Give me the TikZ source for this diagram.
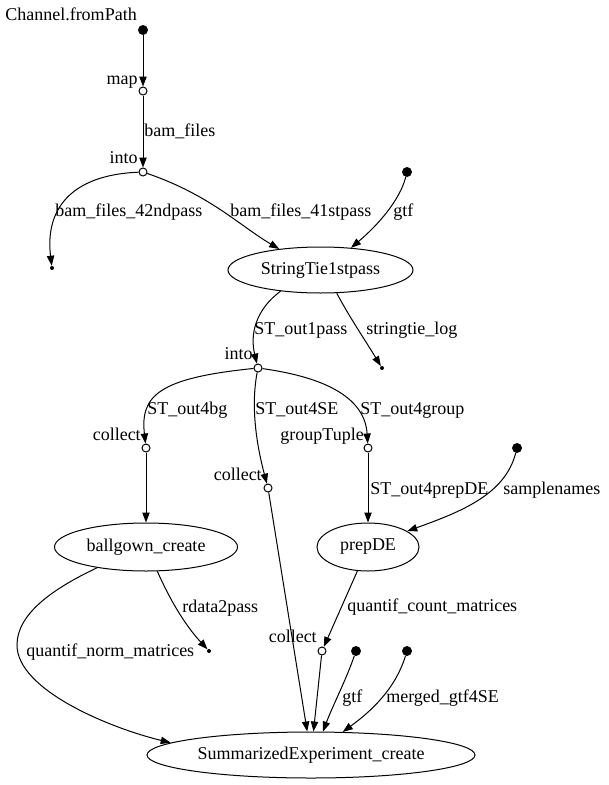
\documentclass[tikz,border=0pt]{standalone}
\usepackage{fontspec}
\setmainfont{Liberation Serif}
\usetikzlibrary{shapes.geometric,arrows.meta}
\begin{document}
\begin{tikzpicture}[x=0.75pt,y=-0.75pt,
  every node/.style={font=\fontsize{13.5}{15}\selectfont},
  dot/.style={circle,fill=black,draw=black,inner sep=0pt,minimum size=7pt},
  sdot/.style={circle,fill=black,inner sep=0pt,minimum size=3pt},
  op/.style={circle,draw=black,fill=white,inner sep=0pt,minimum size=6pt,line width=0.75pt},
  proc/.style={ellipse,draw=black,inner sep=0pt,line width=0.75pt},
  lbl/.style={inner sep=0pt,anchor=base west},
  rlbl/.style={inner sep=0pt,anchor=base east},
  edge/.style={line width=0.75pt,-{Triangle[length=7.5pt,width=5.5pt]}},
]
\useasboundingbox (0,0) rectangle (609,785);
% nodes
\node[dot] (src1) at (143,30) {};
\node[op] (map) at (143,91) {};
\node[op] (into1) at (143,172) {};
\node[sdot] (end1) at (52,268) {};
\node[dot] (gtf1) at (407,172) {};
\node[proc,minimum width=138.75pt,minimum height=34.5pt] (st) at (320.5,270) {StringTie1stpass};
\node[op] (into2) at (258,368) {};
\node[sdot] (end2) at (382,368) {};
\node[op] (col1) at (146,448) {};
\node[op] (col2) at (268,488) {};
\node[op] (grp) at (368,448) {};
\node[dot] (samp) at (517,448) {};
\node[proc,minimum width=137.25pt,minimum height=36pt] (bg) at (146,547) {ballgown\_create};
\node[proc,minimum width=76.5pt,minimum height=36pt] (pde) at (368,547) {prepDE};
\node[sdot] (end3) at (209,651) {};
\node[op] (col3) at (322,651) {};
\node[dot] (gtf2) at (356,651) {};
\node[dot] (mgtf) at (407,651) {};
\node[proc,minimum width=246pt,minimum height=34.5pt] (se) at (311,755) {SummarizedExperiment\_create};
% node labels
\node[lbl] (lsrc1) at (5,21) {Channel.fromPath};
\node[rlbl] (lmap) at (138,84) {map};
\node[rlbl] (linto1) at (138,163) {into};
\node[rlbl] (linto2) at (253,359) {into};
\node[rlbl] (lcol1) at (141,440) {collect};
\node[rlbl] (lgrp) at (364,440) {groupTuple};
\node[rlbl] (lcol2) at (262,480) {collect};
\node[rlbl] (lcol3) at (317,642) {collect};
% edges
\draw[edge] (src1) -- (map);
\draw[edge] (map) -- (into1);
\draw[edge] (into1) .. controls (70,175) and (45,210) .. (end1);
\draw[edge] (into1) .. controls (210,195) and (240,226) .. (st.153);
\draw[edge] (gtf1) .. controls (400,200) and (378,225) .. (st.36);
\draw[edge] (st.208) .. controls (255,310) and (250,335) .. (into2);
\draw[edge] (st.-55) .. controls (350,318) and (365,340) .. (end2);
\draw[edge] (into2) .. controls (160,378) and (140,395) .. (col1);
\draw[edge] (into2) .. controls (250,410) and (258,450) .. (col2);
\draw[edge] (into2) .. controls (330,378) and (365,400) .. (grp);
\draw[edge] (col1) -- (bg);
\draw[edge] (grp) -- (pde);
\draw[edge] (samp) .. controls (505,495) and (460,512) .. (pde.22);
\draw[edge] (col2) -- (se);
\draw[edge] (pde) -- (col3);
\draw[edge] (col3) -- (se);
\draw[edge] (gtf2) .. controls (346,680) and (333,705) .. (se.63);
\draw[edge] (mgtf) .. controls (395,690) and (370,712) .. (se.36);
\draw[edge] (bg.-65) .. controls (170,600) and (185,625) .. (end3);
\draw[edge] (bg.203) .. controls (50,590) and (17,615) .. (17,645) .. controls (17,690) and (110,728) .. (se.175);
% edge labels
\node[lbl] (ebam) at (144,136) {bam\_files};
\node[lbl] (e42) at (55,216) {bam\_files\_42ndpass};
\node[lbl] (e41) at (230,216) {bam\_files\_41stpass};
\node[lbl] (egtf1) at (393,216) {gtf};
\node[lbl] (eout1) at (254,334) {ST\_out1pass};
\node[lbl] (elog) at (366,334) {stringtie\_log};
\node[lbl] (ebg) at (147,414) {ST\_out4bg};
\node[lbl] (ese) at (255,414) {ST\_out4SE};
\node[lbl] (egroup) at (360,414) {ST\_out4group};
\node[lbl] (eprep) at (370,494) {ST\_out4prepDE};
\node[lbl] (esamp) at (503,494) {samplenames};
\node[lbl] (erdata) at (182,612) {rdata2pass};
\node[lbl] (ecount) at (347,611) {quantif\_count\_matrices};
\node[lbl] (enorm) at (26,656) {quantif\_norm\_matrices};
\node[lbl] (egtf2) at (342,702) {gtf};
\node[lbl] (emerged) at (386,702) {merged\_gtf4SE};
\end{tikzpicture}
\end{document}
